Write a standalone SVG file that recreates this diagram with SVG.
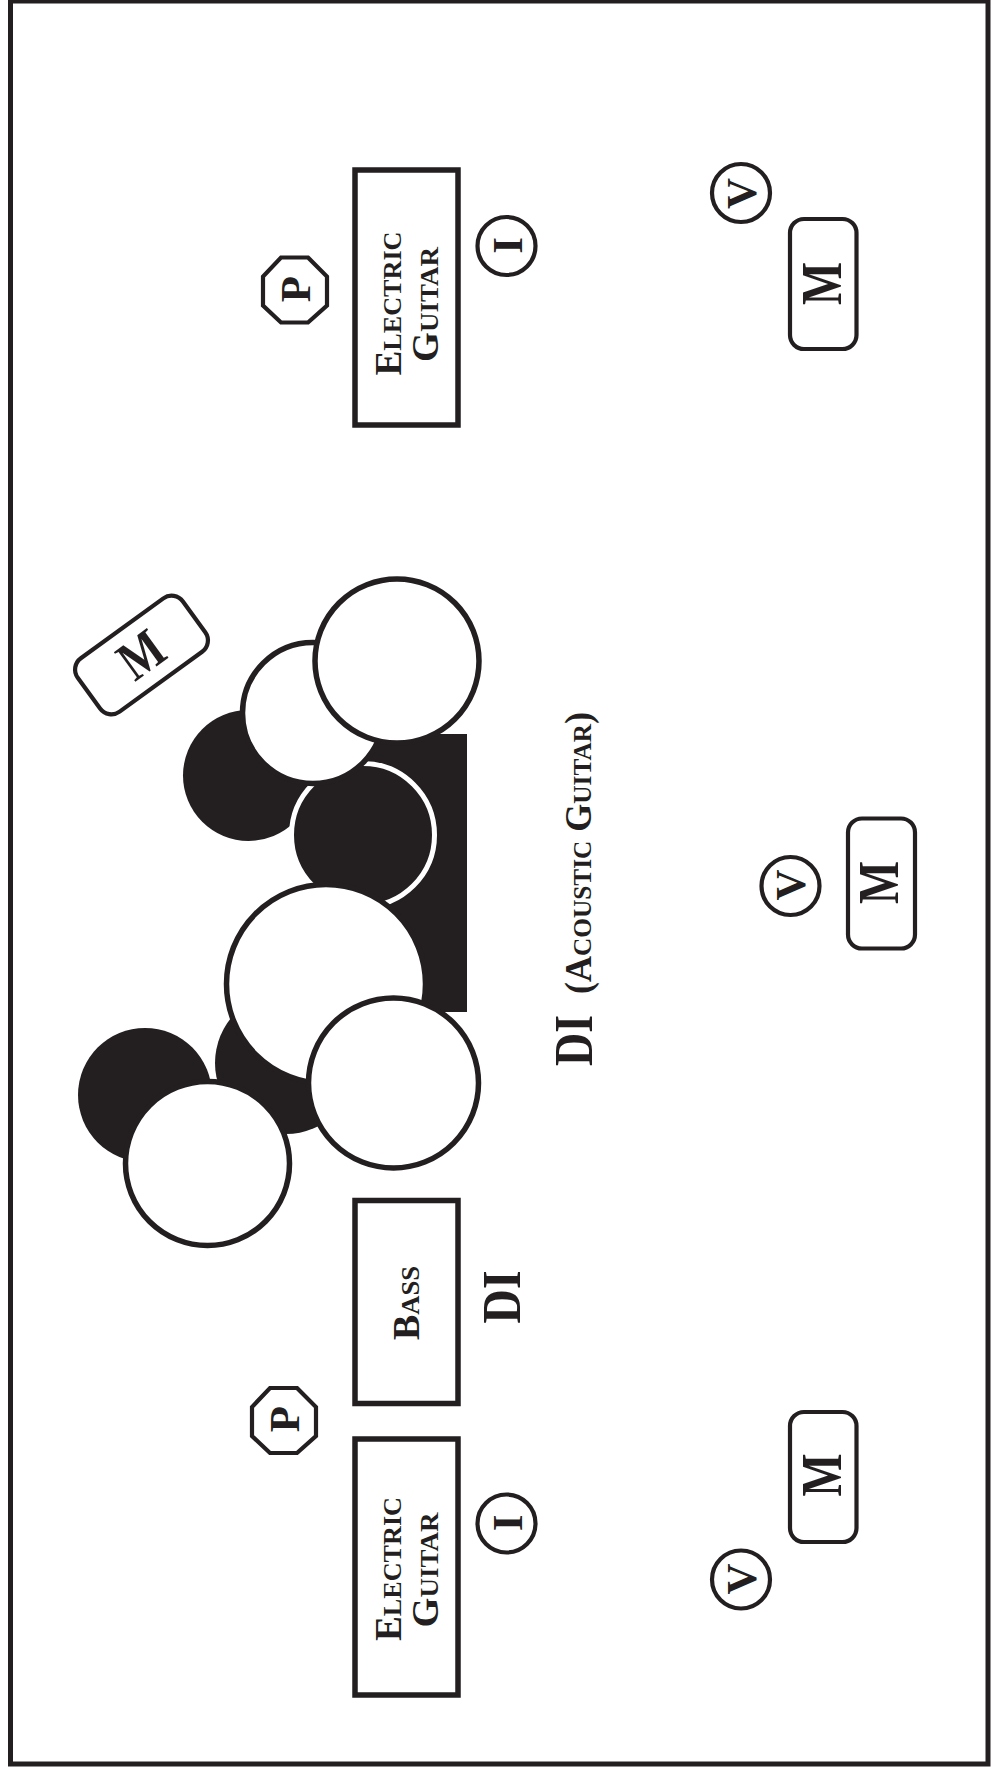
<svg xmlns="http://www.w3.org/2000/svg" width="993" height="1769" viewBox="0 0 993 1769">
<style>
.bg{fill:#fff}
.frame{fill:none;stroke:#231f20;stroke-width:5}
.box{fill:#fff;stroke:#231f20;stroke-width:5.500}
.thin{fill:#fff;stroke:#231f20;stroke-width:4.200}
.solid{fill:#231f20}
.ring{fill:#231f20;stroke:#fff;stroke-width:5}
text{font-family:"Liberation Serif","Times New Roman",serif;font-weight:700;fill:#231f20;text-anchor:middle}
.sc{font-variant:small-caps;font-size:37px}
.l{font-size:43px}
.m{font-size:56px}
.di{font-size:54px}
</style>
<rect class="bg" width="993" height="1769"/>
<rect class="frame" x="10.500" y="1" width="977.500" height="1763"/>
<g id="drums">
<rect class="solid" x="360" y="734" width="107" height="278"/>
<circle class="solid" cx="145" cy="1095" r="67"/>
<circle class="solid" cx="286" cy="1063" r="71"/>
<circle class="solid" cx="248.500" cy="775.500" r="65.500"/>
<circle class="ring" cx="363" cy="835" r="71.500"/>
<circle class="box" cx="326" cy="984" r="99.500"/>
<circle class="box" cx="313" cy="713" r="70.500"/>
<circle class="box" cx="397" cy="661" r="82"/>
<circle class="box" cx="393.500" cy="1083" r="85"/>
<circle class="box" cx="207.500" cy="1163.500" r="82"/>
</g>
<g id="guitar-top">
<rect class="box" x="355" y="170" width="103" height="255"/>
<text class="sc" textLength="144" lengthAdjust="spacingAndGlyphs" transform="translate(400.500 303.500) rotate(-90)">Electric</text>
<text class="sc" textLength="115" lengthAdjust="spacingAndGlyphs" transform="translate(437.500 304.500) rotate(-90)">Guitar</text>
</g>
<g id="p-top">
<polygon class="thin" points="308,257.500 327,276.500 327,305.500 308,322.500 281,322.500 263,305.500 263,276.500 281,257.500"/>
<text class="l" transform="translate(310 289) rotate(-90)">P</text>
</g>
<g id="i-top">
<circle class="thin" cx="506.500" cy="246" r="29"/>
<text class="l" transform="translate(522 245.500) rotate(-90)">I</text>
</g>
<g id="v-top">
<circle class="thin" cx="741" cy="193" r="29"/>
<text class="l" transform="translate(756 193.500) rotate(-90)">V</text>
</g>
<g id="m-top">
<rect class="thin" x="790" y="219" width="66.500" height="130" rx="14"/>
<text class="m" textLength="43" lengthAdjust="spacingAndGlyphs" transform="translate(840.500 283.500) rotate(-90)">M</text>
</g>
<g id="m-angled">
<rect class="thin" x="-65" y="-33" width="130" height="66" rx="14" transform="translate(141.500 655) rotate(-36)"/>
<text class="m" textLength="43" lengthAdjust="spacingAndGlyphs" transform="translate(141.500 655) rotate(-36) translate(0 18)">M</text>
</g>
<g id="di-acoustic">
<text class="di" textLength="51" lengthAdjust="spacingAndGlyphs" transform="translate(592 1040.500) rotate(-90)">DI</text>
<text class="sc" textLength="282" lengthAdjust="spacingAndGlyphs" transform="translate(591 853) rotate(-90)">(Acoustic Guitar)</text>
</g>
<g id="v-mid">
<circle class="thin" cx="790.500" cy="886" r="29"/>
<text class="l" transform="translate(805 885) rotate(-90)">V</text>
</g>
<g id="m-mid">
<rect class="thin" x="848" y="818.500" width="67" height="130" rx="14"/>
<text class="m" textLength="43" lengthAdjust="spacingAndGlyphs" transform="translate(898 882.500) rotate(-90)">M</text>
</g>
<g id="bass">
<rect class="box" x="355" y="1200.500" width="103" height="203"/>
<text class="sc" textLength="74" lengthAdjust="spacingAndGlyphs" transform="translate(418.500 1303) rotate(-90)">Bass</text>
</g>
<g id="di-bass">
<text class="di" textLength="53" lengthAdjust="spacingAndGlyphs" transform="translate(520 1297) rotate(-90)">DI</text>
</g>
<g id="p-bottom">
<polygon class="thin" points="297,1388 316,1407 316,1436 297,1453 270,1453 252,1436 252,1407 270,1388"/>
<text class="l" transform="translate(299 1419) rotate(-90)">P</text>
</g>
<g id="guitar-bottom">
<rect class="box" x="355" y="1439" width="103" height="256"/>
<text class="sc" textLength="144" lengthAdjust="spacingAndGlyphs" transform="translate(400.500 1569) rotate(-90)">Electric</text>
<text class="sc" textLength="115" lengthAdjust="spacingAndGlyphs" transform="translate(437.500 1570) rotate(-90)">Guitar</text>
</g>
<g id="i-bottom">
<circle class="thin" cx="506.500" cy="1523.500" r="29"/>
<text class="l" transform="translate(522 1523) rotate(-90)">I</text>
</g>
<g id="m-bottom">
<rect class="thin" x="790" y="1412" width="66.500" height="130" rx="14"/>
<text class="m" textLength="43" lengthAdjust="spacingAndGlyphs" transform="translate(840.500 1475) rotate(-90)">M</text>
</g>
<g id="v-bottom">
<circle class="thin" cx="741" cy="1579.500" r="29"/>
<text class="l" transform="translate(756 1579) rotate(-90)">V</text>
</g>
<g id="connectors"/>
</svg>
